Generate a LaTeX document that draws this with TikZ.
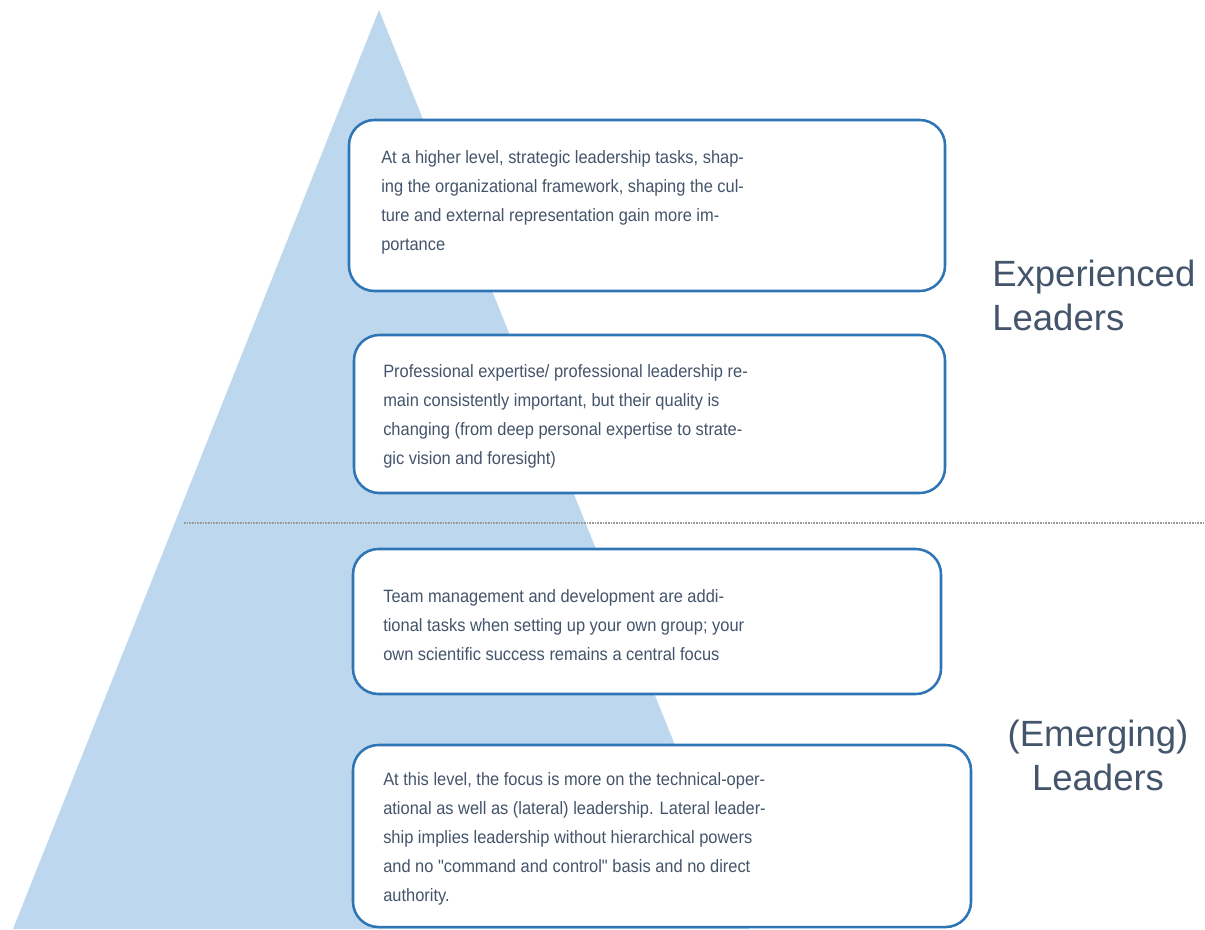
\documentclass[tikz,border=0pt]{standalone}
\usepackage{fontspec}
\setmainfont{Liberation Sans}[Ligatures=TeXOff]
\newfontfamily\boxfont{Liberation Sans}[FakeStretch=0.92, Ligatures=TeXOff]
\definecolor{tri}{HTML}{BDD7EE}
\definecolor{boxline}{HTML}{2E75B6}
\definecolor{txtcol}{HTML}{44546A}
\definecolor{dotcol}{HTML}{9A9A9A}
\tikzset{
  box/.style={draw=boxline, line width=1.9pt, rounded corners=19pt, fill=white, inner sep=0pt},
  txt/.style={text=txtcol, inner sep=0pt, align=left, font=\boxfont\fontsize{13.4}{21.75}\selectfont},
  lab/.style={text=txtcol, inner sep=0pt, font=\fontsize{27.4}{32.3}\selectfont},
  sep/.style={draw=dotcol, line width=0.8pt, dash pattern=on 1.2pt off 0.8pt}
}
\begin{document}
\begin{tikzpicture}[x=0.75pt,y=-0.75pt]
\useasboundingbox (0,0) rectangle (1205,929);
% pyramid
\fill[tri] (13,929) -- (379,10) -- (749,929) -- cycle;
% separator
\coordinate (s1) at (184,523);
\coordinate (s2) at (1205,523);
\draw[sep] (s1) -- (s2);
% boxes
\node (b1) [box, minimum width=447pt, minimum height=128.25pt] at (647,205.5) {};
\node (b2) [box, minimum width=443.25pt, minimum height=118.5pt] at (649.5,414) {};
\node (b3) [box, minimum width=441pt, minimum height=108.75pt] at (647,621.5) {};
\node (b4) [box, minimum width=463.5pt, minimum height=136.5pt] at (662,836) {};
% texts (anchor = baseline of the last line)
\node (t1) [txt, anchor=base west] at (381,250) {At a higher level, strategic leadership tasks, shap-\\ing the organizational framework, shaping the cul-\\ture and external representation gain more im-\\portance};
\node (t2) [txt, anchor=base west] at (383,464) {Professional expertise/ professional leadership re-\\main consistently important, but their quality is\\changing (from deep personal expertise to strate-\\gic vision and foresight)};
\node (t3) [txt, anchor=base west] at (383,660) {Team management and development are addi-\\tional tasks when setting up your own group; your\\own scientific success remains a central focus};
\node (t4) [txt, anchor=base west] at (383,901) {At this level, the focus is more on the technical-oper-\\ational as well as (lateral) leadership. Lateral leader-\\ship implies leadership without hierarchical powers\\and no "command and control" basis and no direct\\authority.};
% labels
\node (l1) [lab, align=left, anchor=base west] at (992,330) {Experienced\\Leaders};
\node (l2) [lab, align=center, anchor=base] at (1098,790) {(Emerging)\\Leaders};
\end{tikzpicture}
\end{document}
